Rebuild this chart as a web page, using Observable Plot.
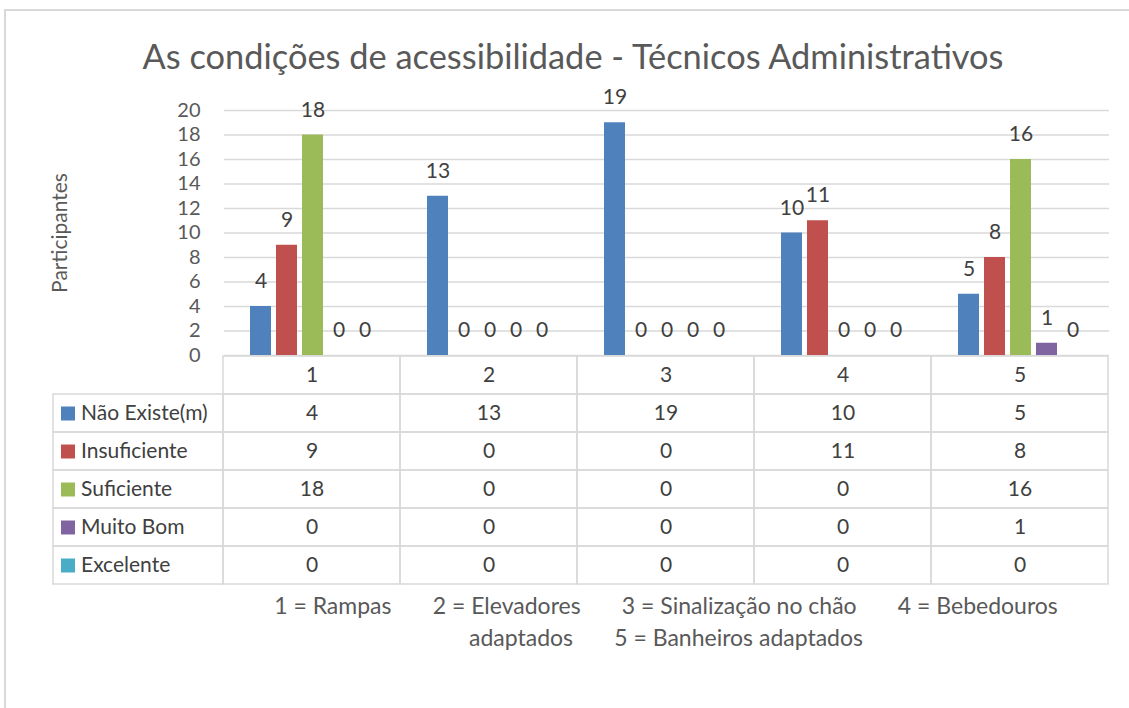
<!DOCTYPE html>
<html>
<head>
<meta charset="utf-8">
<script src="https://cdn.jsdelivr.net/npm/d3@7"></script>
<script src="https://cdn.jsdelivr.net/npm/@observablehq/plot@0.6"></script>
<style>
  html, body { margin: 0; padding: 0; background: #fff; }
  #root { position: relative; width: 1129px; height: 708px; overflow: hidden; font-family: Lato, "Open Sans", sans-serif; color: #595959; }
  #frame { position: absolute; left: 4px; top: 9px; width: 1200px; height: 800px; border-left: 2px solid #d9d9d9; border-top: 2px solid #d9d9d9; }
  #title { position: absolute; left: 0; top: 33px; width: 1146px; text-align: center; font-size: 34.4px; line-height: 46px; white-space: nowrap; }
  #footer { position: absolute; left: 222px; top: 589px; width: 888px; text-align: center; font-size: 23px; line-height: 32px; white-space: pre; }
  .abs { position: absolute; left: 0; top: 0; }
  g[aria-label="y-axis label"] text { font-size: 21px; fill: #595959; }
</style>
</head>
<body>
<div id="root">
  <div id="frame"></div>
</div>
<script>
const categories = ["1", "2", "3", "4", "5"];
const categoryNames = ["Rampas", "Elevadores adaptados", "Sinalização no chão", "Bebedouros", "Banheiros adaptados"];
const series = ["Não Existe(m)", "Insuficiente", "Suficiente", "Muito Bom", "Excelente"];
const naoExiste = [4, 13, 19, 10, 5];
const insuficiente = [9, 0, 0, 11, 8];
const suficiente = [18, 0, 0, 0, 16];
const muitoBom = [0, 0, 0, 0, 1];
const excelente = [0, 0, 0, 0, 0];
const seriesColors = ["#4f81bd", "#c0504d", "#9bbb59", "#8064a2", "#4bacc6"];
const yTicks = [0, 2, 4, 6, 8, 10, 12, 14, 16, 18, 20];
const titleText = "As condições de acessibilidade - Técnicos Administrativos";
const yLabel = "Participantes";

const seriesValues = [naoExiste, insuficiente, suficiente, muitoBom, excelente];
const data = [];
series.forEach((s, si) => categories.forEach((c, ci) => data.push({cat: c, series: s, value: seriesValues[si][ci]})));

const root = document.getElementById("root");
const numFont = "Lato, 'Open Sans', sans-serif";

// Title
const t = document.createElement("div");
t.id = "title"; t.textContent = titleText; root.appendChild(t);

// Chart
const chart = Plot.plot({
  width: 1129,
  height: 356,
  marginTop: 110,
  marginBottom: 1,
  marginLeft: 222,
  marginRight: 19,
  style: {background: "transparent", fontFamily: numFont, fontSize: "20px", color: "#595959", overflow: "visible"},
  fx: {domain: categories, paddingInner: 0, paddingOuter: 0, axis: null, label: null},
  x: {domain: series, paddingInner: 0.185, paddingOuter: 0.88, axis: null},
  y: {domain: [0, 20], ticks: yTicks, tickSize: 0, tickPadding: 24, label: yLabel, labelAnchor: "center", labelArrow: "none", labelOffset: 172, grid: false},
  color: {domain: series, range: seriesColors},
  marks: [
    Plot.gridY(yTicks, {stroke: "#d9d9d9", strokeOpacity: 1, strokeWidth: 1.5}),
    Plot.barY(data, {fx: "cat", x: "series", y: "value", fill: "series"}),
    Plot.text(data, {fx: "cat", x: "series", y: "value", text: d => String(d.value), dy: -25, fill: "#404040", fontSize: 21})
  ]
});
chart.classList.add("abs");
root.appendChild(chart);

// Table
const rows = ["header", ...series];
const labelCol = "";
const table = Plot.plot({
  width: 1129,
  height: 236,
  marginTop: 3,
  marginBottom: 4,
  marginLeft: 222 - 177.6,
  marginRight: 19,
  style: {background: "transparent", fontFamily: numFont, fontSize: "20px", color: "#595959", overflow: "visible"},
  x: {domain: [labelCol, ...categories], padding: 0, axis: null},
  y: {domain: rows, padding: 0, axis: null},
  color: {domain: series, range: seriesColors},
  marks: [
    Plot.cell(categories, {x: d => d, y: () => "header", stroke: "#d9d9d9", strokeWidth: 1.5, fill: "none"}),
    Plot.cell(data, {x: "cat", y: "series", stroke: "#d9d9d9", strokeWidth: 1.5, fill: "none"}),
    Plot.cell(series, {x: () => labelCol, y: d => d, stroke: "#d9d9d9", strokeWidth: 1.5, fill: "none", insetLeft: 7}),
    Plot.text(categories, {x: d => d, y: () => "header", text: d => d, fill: "#404040", fontSize: 21}),
    Plot.text(data, {x: "cat", y: "series", text: d => String(d.value), fill: "#404040", fontSize: 21}),
    Plot.dot(series, {x: () => labelCol, y: d => d, fill: d => d, symbol: "square", r: 7.9, dx: -67}),
    Plot.text(series, {x: () => labelCol, y: d => d, text: d => d, textAnchor: "start", dx: -54, fill: "#404040", fontSize: 21})
  ]
});
table.classList.add("abs");
table.style.top = "352px";
root.appendChild(table);

// Footer (category key), wrapped as in the original: the second word of
// "Elevadores adaptados" falls onto the second line.
const gap = "       ";
const parts = categories.map((c, i) => `${c} = ${categoryNames[i]}`);
const elevWords = parts[1].split(" = ")[1].split(" ");
const line1 = [parts[0], `${categories[1]} = ${elevWords[0]}`, parts[2], parts[3]].join(gap);
const line2 = [elevWords.slice(1).join(" "), parts[4]].join(gap);
const f = document.createElement("div");
f.id = "footer";
f.textContent = line1 + "\n" + line2;
root.appendChild(f);
</script>
</body>
</html>
